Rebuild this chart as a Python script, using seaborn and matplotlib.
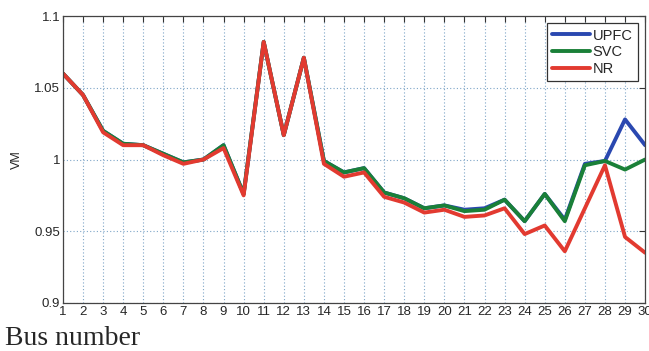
import numpy as np
import pandas as pd
import matplotlib
matplotlib.use("Agg")
import matplotlib.pyplot as plt
import seaborn as sns

# Bus voltage magnitude (p.u.) for each of the 30 buses
buses = list(range(1, 31))
vm_upfc = [1.060, 1.045, 1.020, 1.011, 1.010, 1.004, 0.998, 1.000, 1.010, 0.976,
           1.082, 1.017, 1.071, 0.999, 0.991, 0.994, 0.977, 0.973, 0.966, 0.968,
           0.965, 0.966, 0.972, 0.957, 0.976, 0.958, 0.997, 0.999, 1.028, 1.010]
vm_svc = [1.060, 1.045, 1.020, 1.011, 1.010, 1.004, 0.998, 1.000, 1.010, 0.976,
          1.082, 1.017, 1.071, 0.999, 0.991, 0.994, 0.977, 0.973, 0.966, 0.968,
          0.964, 0.965, 0.972, 0.957, 0.976, 0.957, 0.996, 0.999, 0.993, 1.000]
vm_nr = [1.060, 1.045, 1.019, 1.010, 1.010, 1.003, 0.997, 1.000, 1.008, 0.975,
         1.082, 1.017, 1.071, 0.997, 0.988, 0.991, 0.974, 0.970, 0.963, 0.965,
         0.960, 0.961, 0.966, 0.948, 0.954, 0.936, 0.966, 0.996, 0.946, 0.935]
methods = ["UPFC", "SVC", "NR"]
colors = ["#2a48b0", "#1a8038", "#e23a30"]

df = pd.concat([
    pd.DataFrame({"Bus": buses, "VM": v, "Method": m})
    for m, v in zip(methods, [vm_upfc, vm_svc, vm_nr])
], ignore_index=True)

sns.set_style("white")
plt.rcParams["font.family"] = ["Liberation Sans", "DejaVu Sans"]

fig = plt.figure(figsize=(6.49, 3.51), dpi=100)
ax = fig.add_axes([0.097, 0.137, 0.897, 0.817])

sns.lineplot(data=df, x="Bus", y="VM", hue="Method", hue_order=methods,
             palette=colors, linewidth=2.8, ax=ax, legend=False)

ax.set_xlim(1, 30)
ax.set_ylim(0.9, 1.1)
ax.set_xticks(buses)
ax.set_xticklabels([str(b) for b in buses], fontsize=9.5)
ax.set_yticks([0.9, 0.95, 1.0, 1.05, 1.1])
ax.set_yticklabels(["0.9", "0.95", "1", "1.05", "1.1"], fontsize=9.5)
ax.tick_params(axis="both", direction="in", length=4, width=0.8, color="#333333",
               top=True, right=True, pad=2)
ax.grid(True, linestyle=(0, (1, 2)), color="#7fa6c8", linewidth=0.8)
for s in ax.spines.values():
    s.set_color("#444444")
    s.set_linewidth(0.9)

ax.set_xlabel("")
ax.set_ylabel("VM", fontsize=9, labelpad=8)

handles = [plt.Line2D([], [], color=c, linewidth=2.8) for c in colors]
leg = ax.legend(handles, methods, loc="upper right", fontsize=10.5, frameon=True,
                fancybox=False, edgecolor="#333333", framealpha=1,
                handlelength=2.6, handletextpad=0.2, borderpad=0.35,
                labelspacing=0.2, borderaxespad=0.5)
leg.get_frame().set_linewidth(0.9)

fig.text(0.008, 0.016, "Bus number", fontsize=20, family=["Liberation Serif"],
         ha="left", va="baseline")

fig.savefig("out.png", dpi=100)
